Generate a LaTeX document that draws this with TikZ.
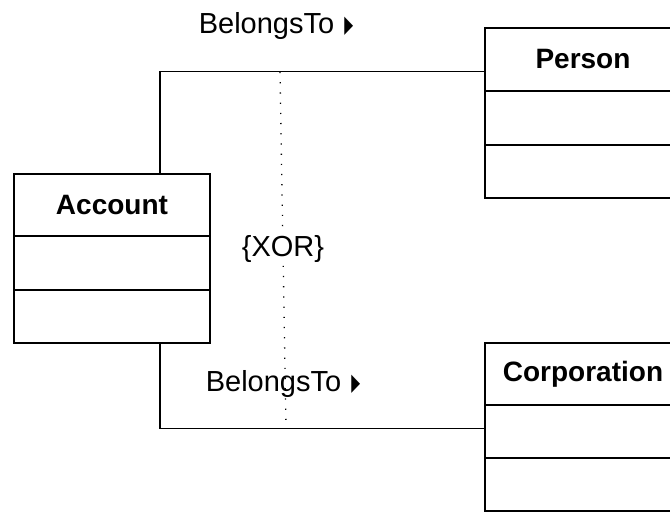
\documentclass[tikz,border=0pt]{standalone}
\usepackage{fontspec}
\usepackage{graphicx}
\setmainfont{Liberation Sans}
\newfontfamily\symfont{DejaVu Sans}
\usetikzlibrary{calc}
\usetikzlibrary{positioning}
\newcommand{\umlFontSize}{\fontsize{29}{33}\selectfont}
\newcommand{\readDir}{\hspace{2pt}\raisebox{1pt}{\scalebox{0.48}[1]{\symfont\fontsize{24}{28}\selectfont ▶}}}
\tikzset{
    compartment/.style = {draw, line width=2pt, minimum width=196pt, outer sep=0pt, inner sep=0pt},
    classname/.style = {compartment, minimum height=62pt, font=\fontsize{28}{32}\selectfont\bfseries},
    classpart/.style = {compartment, minimum height=54pt},
    assoc/.style = {line width=1.3pt},
    xorline/.style = {line width=1.3pt, dash pattern=on 1.2pt off 9pt},
    assoclabel/.style = {font=\umlFontSize, inner sep=1pt}
}

\begin{document}
\begin{tikzpicture}[x=1pt, y=-1pt]
                % picture frame, right hand classes run past it
                \useasboundingbox (0,0) rectangle (670,512);
                
                % Account on the left, Person and Corporation on the right
                \node[classname] (account) at (112,205) {Account};
                \node[classpart, below=0pt of account] (accountattr) {};
                \node[classpart, minimum height=53pt, below=0pt of accountattr] (accountops) {};
                
                \node[classname, minimum height=63pt] (person) at (583,59.5) {Person};
                \node[classpart, below=0pt of person] (personattr) {};
                \node[classpart, minimum height=53pt, below=0pt of personattr] (personops) {};
                
                \node[classname] (corp) at (583,374) {Corporation};
                \node[classpart, minimum height=53pt, below=0pt of corp] (corpattr) {};
                \node[classpart, minimum height=53pt, below=0pt of corpattr] (corpops) {};
                
                \draw[assoc] ([xshift=48pt]account.north) |- ([yshift=-12pt]person.west);
                \draw[assoc] ([xshift=48pt]accountops.south) |- ([yshift=3pt]corpattr.west);
                
                % xor constraint across both associations
                \coordinate (xortop) at (280,72);
                \coordinate (xorbot) at (286,428);
                \draw[xorline] (xortop) -- (xorbot);
                \node[assoclabel, fill=white] (xor) at (283,249) {\{XOR\}};
                
                \node[assoclabel] (belongsTop) at (276,26) {BelongsTo \readDir};
                \node[assoclabel] (belongsBot) at (283,384) {BelongsTo \readDir};
        \end{tikzpicture}
\end{document}
